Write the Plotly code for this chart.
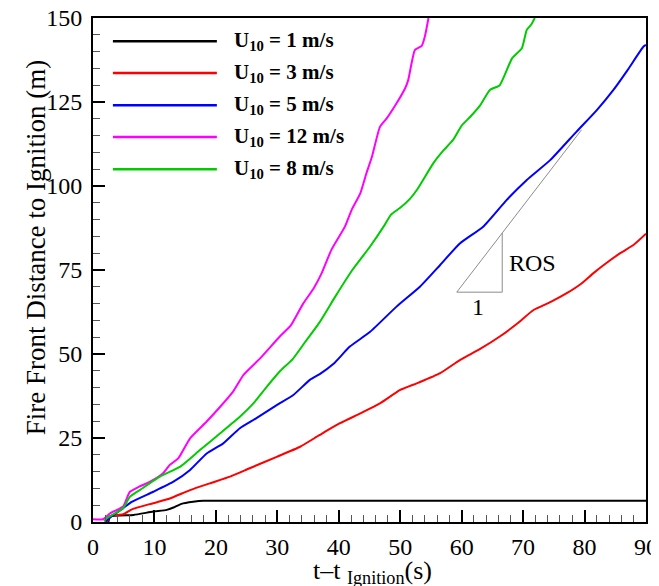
import plotly.graph_objects as go

# ---------------- data ----------------
labels = ["U<sub>10</sub> = 1 m/s", "U<sub>10</sub> = 3 m/s", "U<sub>10</sub> = 5 m/s",
          "U<sub>10</sub> = 12 m/s", "U<sub>10</sub> = 8 m/s"]
colors = ["#000000", "#ff0000", "#0000ff", "#ff00ff", "#00cc00"]

t_u1 = [2.5, 2.8, 6.6, 9.8, 12.0, 13.1, 14.4, 16.3, 18.0, 20.0, 90]
d_u1 = [0.0, 1.6, 2.1, 3.1, 3.6, 4.3, 5.4, 6.0, 6.3, 6.3, 6.3]

t_u3 = [2.3, 2.8, 4.9, 6.5, 9.8, 12.5, 15.8, 19.0, 22.3, 25.5, 29.9, 33.7, 36.9, 40.2,
        43.5, 46.7, 50.0, 53.0, 56.5, 59.7, 63.0, 66.2, 69.0, 71.7, 74.5, 77.1, 79.5,
        81.4, 83.5, 85.8, 88.0, 90]
d_u3 = [0.0, 1.8, 2.3, 3.9, 5.6, 7.0, 9.5, 11.5, 13.5, 16.0, 19.4, 22.4, 25.9, 29.4,
        32.3, 35.3, 39.3, 41.5, 44.3, 48.2, 51.5, 55.2, 59.0, 63.1, 65.5, 68.1, 71.0,
        74.0, 77.0, 80.0, 82.5, 85.8]

t_u5 = [2.0, 2.5, 4.9, 6.3, 9.8, 13.1, 15.8, 18.5, 21.2, 23.9, 26.6, 29.9, 32.6, 35.3,
        36.9, 39.1, 41.8, 45.1, 49.4, 53.2, 56.5, 59.7, 63.5, 67.3, 70.6, 74.4, 78.7,
        82.0, 84.7, 87.0, 89.6, 90]
d_u5 = [0.0, 1.0, 4.1, 6.0, 9.0, 12.0, 15.5, 20.4, 23.4, 27.9, 30.9, 34.8, 37.8, 42.3,
        44.0, 47.0, 52.2, 56.6, 64.1, 70.0, 76.5, 82.9, 87.9, 95.8, 101.8, 107.7, 116.2,
        122.6, 128.6, 134.5, 141.5, 142.0]

t_u12 = [0, 1.6, 2.8, 4.9, 5.6, 6.0, 7.5, 9.3, 11.4, 12.5, 13.9, 15.8, 18.5, 20.7, 22.8,
         24.5, 27.2, 30.4, 32.2, 34.2, 35.9, 37.2, 38.8, 41.0, 42.1, 43.5, 44.5, 45.4,
         46.7, 47.8, 49.4, 50.8, 51.3, 52.4, 53.5, 54.0, 54.6]
d_u12 = [0.8, 0.8, 2.6, 4.6, 7.5, 9.0, 10.5, 12.0, 14.5, 17.0, 19.0, 24.9, 29.9, 34.3,
         38.8, 43.8, 48.7, 55.2, 58.5, 65.0, 69.5, 74.0, 81.0, 87.9, 92.9, 97.8, 103.8,
         108.7, 117.6, 120.1, 124.6, 129.1, 131.5, 140.5, 141.7, 144.4, 150]

t_u8 = [1.8, 2.2, 4.9, 6.0, 7.6, 10.9, 14.2, 17.4, 20.7, 23.9, 26.1, 28.3, 30.5, 32.5,
        34.5, 36.9, 39.4, 42.2, 45.1, 47.5, 48.5, 50.0, 51.5, 52.7, 55.4, 57.0, 58.6,
        60.0, 61.4, 63.0, 64.6, 66.2, 68.2, 69.8, 70.6, 71.3, 71.9]
d_u8 = [0.2, 1.1, 4.1, 7.5, 9.5, 13.5, 16.5, 21.4, 26.4, 31.3, 35.3, 40.3, 45.0, 48.5,
        53.5, 59.5, 67.0, 75.0, 82.0, 88.5, 91.5, 93.5, 96.0, 98.8, 106.8, 110.5, 113.7,
        118.0, 120.6, 124.0, 128.6, 130.0, 138.0, 141.0, 146.5, 148.0, 150]

# ROS slope triangle (data coordinates)
tri_x = [79.5, 59.2, 66.6, 66.6]
tri_y = [116.7, 68.4, 68.4, 86.0]

x_ticks = [0, 10, 20, 30, 40, 50, 60, 70, 80, 90]
y_ticks = [0, 25, 50, 75, 100, 125, 150]

series_t = [t_u1, t_u3, t_u5, t_u12, t_u8]
series_d = [d_u1, d_u3, d_u5, d_u12, d_u8]

FONT = "Liberation Serif"

fig = go.Figure()
for t, d, c, lab in zip(series_t, series_d, colors, labels):
    fig.add_trace(go.Scatter(x=t, y=d, mode="lines", name=lab,
                             line=dict(color=c, width=2, shape="spline", smoothing=0.5),
                             showlegend=False))

fig.add_trace(go.Scatter(x=tri_x, y=tri_y, mode="lines", showlegend=False,
                         line=dict(color="#8c8c8c", width=1)))

# manual legend (long line samples)
row_y = [0.954, 0.891, 0.827, 0.764, 0.700]
for ry, c, lab in zip(row_y, colors, labels):
    fig.add_shape(type="line", xref="paper", yref="paper", x0=0.036, x1=0.224,
                  y0=ry, y1=ry, line=dict(color=c, width=2.5))
    fig.add_annotation(xref="paper", yref="paper", x=0.252, y=ry, xanchor="left",
                       yanchor="middle", showarrow=False, text="<b>" + lab + "</b>",
                       font=dict(family=FONT, size=21, color="black"))

fig.add_annotation(x=67.3, y=77.1, xanchor="left", yanchor="middle", showarrow=False,
                   text="ROS", font=dict(family=FONT, size=24, color="black"))
fig.add_annotation(x=62.6, y=64.1, xanchor="center", yanchor="middle", showarrow=False,
                   text="1", font=dict(family=FONT, size=24, color="black"))

# axis titles
fig.add_annotation(xref="paper", yref="paper", x=0.506, y=-0.100, xanchor="center",
                   yanchor="middle", showarrow=False,
                   text="t\u2013t <sub>Ignition</sub>(s)",
                   font=dict(family=FONT, size=26, color="black"))
fig.add_annotation(xref="paper", yref="paper", x=-0.103, y=0.545, xanchor="center",
                   yanchor="middle", showarrow=False, textangle=-90,
                   text="Fire Front Distance to Ignition (m)",
                   font=dict(family=FONT, size=27, color="black"))

axis_common = dict(showgrid=False, zeroline=False, showline=True, linecolor="black",
                   linewidth=2, mirror=True, ticks="inside", ticklen=12, tickwidth=2,
                   tickcolor="black", automargin=False, ticklabeloverflow="allow",
                   tickfont=dict(family=FONT, size=24, color="black"))

fig.update_xaxes(range=[0, 90], tickvals=x_ticks, ticktext=[str(v) for v in x_ticks],
                 minor=dict(dtick=2, ticks="inside", ticklen=7, tickwidth=1,
                            tickcolor="#555555", showgrid=False),
                 ticklabelstandoff=2, **axis_common)
fig.update_yaxes(range=[0, 150], tickvals=y_ticks, ticktext=[str(v) for v in y_ticks],
                 minor=dict(dtick=5, ticks="inside", ticklen=7, tickwidth=1,
                            tickcolor="#555555", showgrid=False),
                 ticklabelstandoff=4, **axis_common)

# page body adds an 8px offset, so the figure is sized to fit the window
fig.update_layout(width=651, height=578, margin=dict(l=85, r=13, t=10, b=64),
                  plot_bgcolor="white", paper_bgcolor="white",
                  font=dict(family=FONT, color="black"))

fig.write_html("out.html")
